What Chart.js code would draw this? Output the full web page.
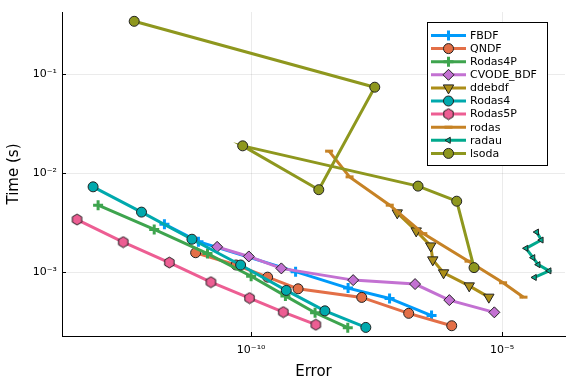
<!DOCTYPE html>
<html>
<head>
<meta charset="utf-8">
<script src="https://cdn.jsdelivr.net/npm/chart.js@4/dist/chart.umd.min.js"></script>
<style>
  html, body { margin: 0; padding: 0; background: #fff; }
  #wrap { width: 576px; height: 384px; position: relative; }
</style>
</head>
<body>
<div id="wrap"><canvas id="c" width="576" height="384"></canvas></div>
<script>
/* ── DATA (error, time) ── */
const names = ['FBDF', 'QNDF', 'Rodas4P', 'CVODE_BDF', 'ddebdf', 'Rodas4', 'Rodas5P', 'rodas', 'radau', 'lsoda'];

const fbdfErr  = [1.87e-12, 8.91e-12, 7.69e-10, 8.55e-9, 5.74e-8, 3.94e-7];
const fbdfTime = [3.05e-3, 2.03e-3, 1.01e-3, 6.89e-4, 5.42e-4, 3.64e-4];

const qndfErr  = [7.83e-12, 5.01e-11, 2.13e-10, 8.63e-10, 1.60e-8, 1.38e-7, 9.95e-7];
const qndfTime = [1.57e-3, 1.18e-3, 8.89e-4, 6.78e-4, 5.55e-4, 3.83e-4, 2.87e-4];

const rodas4pErr  = [8.91e-14, 1.17e-12, 1.35e-11, 1.0e-10, 4.82e-10, 1.88e-9, 8.43e-9];
const rodas4pTime = [4.75e-3, 2.70e-3, 1.54e-3, 9.08e-4, 5.75e-4, 3.88e-4, 2.74e-4];

const cvodeErr  = [2.10e-11, 8.99e-11, 4.0e-10, 1.08e-8, 1.85e-7, 8.91e-7, 7.03e-6];
const cvodeTime = [1.80e-3, 1.44e-3, 1.09e-3, 8.30e-4, 7.57e-4, 5.21e-4, 3.92e-4];

const ddebdfErr  = [8.17e-8, 1.95e-7, 3.80e-7, 4.17e-7, 6.84e-7, 2.22e-6, 5.46e-6];
const ddebdfTime = [3.97e-3, 2.61e-3, 1.84e-3, 1.33e-3, 9.84e-4, 7.26e-4, 5.58e-4];

const rodas4Err  = [7.08e-14, 6.53e-13, 6.61e-12, 6.17e-11, 5.01e-10, 2.95e-9, 1.93e-8];
const rodas4Time = [7.28e-3, 4.04e-3, 2.15e-3, 1.18e-3, 6.53e-4, 4.06e-4, 2.76e-4];

const rodas5pErr  = [3.39e-14, 2.82e-13, 2.34e-12, 1.58e-11, 9.3e-11, 4.37e-10, 1.95e-9];
const rodas5pTime = [3.40e-3, 2.01e-3, 1.25e-3, 7.92e-4, 5.46e-4, 3.94e-4, 2.94e-4];

const rodasErr  = [3.58e-9, 9.16e-9, 5.79e-8, 2.70e-7, 2.15e-6, 1.05e-5, 2.68e-5];
const rodasTime = [1.67e-2, 9.18e-3, 4.75e-3, 2.45e-3, 1.29e-3, 7.80e-4, 5.58e-4];

const radauErr  = [4.91e-5, 6.07e-5, 3.01e-5, 4.15e-5, 5.26e-5, 8.71e-5, 4.44e-5];
const radauTime = [2.54e-3, 2.11e-3, 1.74e-3, 1.40e-3, 1.19e-3, 1.03e-3, 8.83e-4];

const lsodaErr  = [4.67e-13, 2.91e-8, 2.23e-9, 6.78e-11, 2.12e-7, 1.25e-6, 2.77e-6];
const lsodaTime = [0.343, 7.40e-2, 6.81e-3, 1.89e-2, 7.40e-3, 5.21e-3, 1.11e-3];

const xTicks = [1e-10, 1e-5];
const yTicks = [1e-3, 1e-2, 1e-1];

/* ── STYLE ── */
const colors = ['#009AFA', '#E36F47', '#3EA44E', '#C371D2', '#AC8E18', '#00A9AD', '#ED5E93', '#C68225', '#00A98D', '#8E971E'];

// hexagon marker for Rodas5P (Chart.js has none)
function hexMarker(color) {
  var cv = document.createElement('canvas');
  cv.width = 13; cv.height = 13;
  var g = cv.getContext('2d');
  g.beginPath();
  for (var i = 0; i < 6; i++) {
    var a = Math.PI / 2 + i * Math.PI / 3;
    var px = 6.5 + 5.4 * Math.cos(a), py = 6.5 + 5.4 * Math.sin(a);
    if (i === 0) g.moveTo(px, py); else g.lineTo(px, py);
  }
  g.closePath();
  g.fillStyle = color; g.fill();
  g.lineWidth = 1; g.strokeStyle = '#222'; g.stroke();
  return cv;
}

const markers = [
  { style: 'cross',    r: 5,   rot: 0,   bw: 3, bc: null },
  { style: 'circle',   r: 5,   rot: 0,   bw: 1, bc: '#222' },
  { style: 'cross',    r: 5,   rot: 0,   bw: 3, bc: null },
  { style: 'rectRot',  r: 5.5, rot: 0,   bw: 1, bc: '#222' },
  { style: 'triangle', r: 6,   rot: 180, bw: 1, bc: '#222' },
  { style: 'circle',   r: 5,   rot: 0,   bw: 1, bc: '#222' },
  { style: hexMarker(colors[6]), r: 6, rot: 0, bw: 1, bc: '#222' },
  { style: 'line',     r: 4,   rot: 0,   bw: 3, bc: null },
  { style: 'triangle', r: 3.5, rot: 270, bw: 1, bc: '#222' },
  { style: 'circle',   r: 5,   rot: 0,   bw: 1, bc: '#222' }
];

const errs  = [fbdfErr, qndfErr, rodas4pErr, cvodeErr, ddebdfErr, rodas4Err, rodas5pErr, rodasErr, radauErr, lsodaErr];
const times = [fbdfTime, qndfTime, rodas4pTime, cvodeTime, ddebdfTime, rodas4Time, rodas5pTime, rodasTime, radauTime, lsodaTime];

const datasets = names.map(function (n, i) {
  var m = markers[i];
  return {
    label: n,
    data: errs[i].map(function (e, j) { return { x: e, y: times[i][j] }; }),
    showLine: true,
    borderColor: colors[i],
    borderWidth: 3,
    backgroundColor: colors[i],
    pointStyle: m.style,
    pointRadius: m.r,
    pointRotation: m.rot,
    pointBorderWidth: m.bw,
    pointBorderColor: m.bc || colors[i],
    pointBackgroundColor: colors[i],
    order: -i   // later series on top, like the reference
  };
});

const SUP = { '-': '⁻', '0': '⁰', '1': '¹', '2': '²', '3': '³', '4': '⁴', '5': '⁵', '6': '⁶', '7': '⁷', '8': '⁸', '9': '⁹' };
function powLabel(v) {
  var e = Math.round(Math.log10(v));
  return '10' + String(e).split('').map(function (c) { return SUP[c]; }).join('');
}

/* ── small inward tick marks on the two axis lines ── */
const innerTicks = {
  id: 'innerTicks',
  afterDatasetsDraw: function (chart) {
    var ctx = chart.ctx, a = chart.chartArea;
    ctx.save();
    ctx.strokeStyle = '#000';
    ctx.lineWidth = 1;
    ctx.beginPath();
    xTicks.forEach(function (v) {
      var px = Math.round(chart.scales.x.getPixelForValue(v)) + 0.5;
      ctx.moveTo(px, a.bottom); ctx.lineTo(px, a.bottom - 4);
    });
    yTicks.forEach(function (v) {
      var py = Math.round(chart.scales.y.getPixelForValue(v)) + 0.5;
      ctx.moveTo(a.left, py); ctx.lineTo(a.left + 4, py);
    });
    ctx.stroke();
    ctx.restore();
  }
};

/* ── LEGEND (drawn inside the plot, top right) ── */
const boxLegend = {
  id: 'boxLegend',
  afterDraw: function (chart) {
    var ctx = chart.ctx;
    var x0 = 427, y0 = 22, w = 120, h = 143;
    ctx.save();
    ctx.fillStyle = '#fff';
    ctx.fillRect(x0, y0, w, h);
    ctx.strokeStyle = '#000';
    ctx.lineWidth = 1;
    ctx.strokeRect(x0 + 0.5, y0 + 0.5, w, h);
    ctx.font = '11px "DejaVu Sans"';
    ctx.textBaseline = 'middle';
    ctx.textAlign = 'left';
    chart.data.datasets.forEach(function (ds, i) {
      var y = 35.5 + i * 13.1;
      ctx.strokeStyle = ds.borderColor;
      ctx.lineWidth = 3;
      ctx.beginPath();
      ctx.moveTo(431, y); ctx.lineTo(466, y);
      ctx.stroke();
      ctx.fillStyle = ds.pointBackgroundColor;
      ctx.strokeStyle = ds.pointBorderColor;
      ctx.lineWidth = ds.pointBorderWidth;
      Chart.helpers.drawPoint(ctx, {
        pointStyle: ds.pointStyle, radius: ds.pointRadius,
        rotation: ds.pointRotation, borderWidth: ds.pointBorderWidth
      }, 448.5, y);
      ctx.fillStyle = '#000';
      ctx.fillText(ds.label, 470, y + 0.5);
    });
    ctx.restore();
  }
};

new Chart(document.getElementById('c'), {
  type: 'scatter',
  data: { datasets: datasets },
  plugins: [innerTicks, boxLegend],
  options: {
    responsive: false,
    animation: false,
    layout: { padding: { top: 12, right: 11, left: 0, bottom: 0 } },
    plugins: { legend: { display: false }, tooltip: { enabled: false } },
    scales: {
      x: {
        type: 'logarithmic',
        min: 1.70e-14, max: 1.80e-4,
        afterBuildTicks: function (axis) { axis.ticks = xTicks.map(function (v) { return { value: v }; }); },
        afterFit: function (s) { s.height = 48; },
        ticks: { callback: powLabel, maxRotation: 0, autoSkip: false, padding: 8, color: '#000',
                 font: { family: 'DejaVu Sans', size: 11 } },
        grid: { color: 'rgba(0,0,0,0.08)', lineWidth: 1, drawTicks: false },
        border: { display: true, color: '#000', width: 1 },
        title: { display: true, text: 'Error', color: '#000', padding: { top: 2, bottom: 3 },
                 font: { family: 'DejaVu Sans', size: 15 } }
      },
      y: {
        type: 'logarithmic',
        min: 2.26e-4, max: 0.426,
        afterBuildTicks: function (axis) { axis.ticks = yTicks.map(function (v) { return { value: v }; }); },
        afterFit: function (s) { s.width = 62; },
        ticks: { callback: powLabel, autoSkip: false, padding: 5, color: '#000',
                 font: { family: 'DejaVu Sans', size: 11 } },
        grid: { color: 'rgba(0,0,0,0.08)', lineWidth: 1, drawTicks: false },
        border: { display: true, color: '#000', width: 1 },
        title: { display: true, text: 'Time (s)', color: '#000', padding: { top: 5, bottom: 0 },
                 font: { family: 'DejaVu Sans', size: 15 } }
      }
    }
  }
});
</script>
</body>
</html>
